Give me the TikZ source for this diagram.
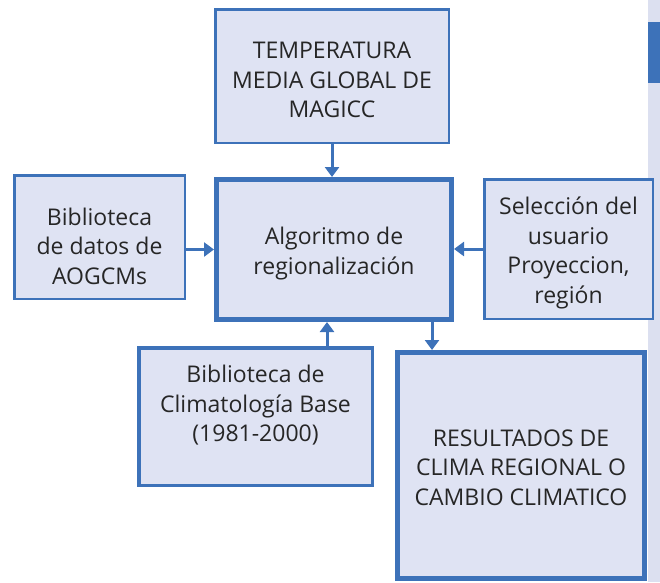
\documentclass[tikz,border=0pt]{standalone}
\usepackage{fontspec}
\setmainfont{Open Sans}
\usetikzlibrary{arrows.meta, calc}
\definecolor{boxblue}{HTML}{3D72B9}
\definecolor{boxfill}{HTML}{DFE3F3}
\definecolor{barfill}{HTML}{DCE0F0}
\tikzset{
  boxtext/.style={align=center, inner sep=0pt, font=\fontsize{23}{29.5}\selectfont, text=black!85},
  box/.style={boxtext, draw=boxblue, fill=boxfill, line width=2.5pt},
  heavybox/.style={box, line width=5pt},
  arr/.style={draw=boxblue, line width=3pt, -{Triangle[width=14pt,length=10pt]}},
}
\begin{document}
\begin{tikzpicture}[x=1pt, y=-1pt]
        \useasboundingbox (0,0) rectangle (660,582);
        % side bar
        \fill[barfill] (648,0) rectangle (660,582);
        \fill[boxblue] (648,22) rectangle (660,83);

        \node[box, minimum width=233.5pt, minimum height=133.5pt,
              label={[boxtext, name=temptxt, yshift=-4pt]center:{TEMPERATURA\\MEDIA GLOBAL DE\\MAGICC}}] (temp) at (332,76) {};
        \node[heavybox, minimum width=235pt, minimum height=140pt,
              label={[boxtext, name=algotxt, yshift=-4pt]center:{Algoritmo de\\regionalización}}] (algo) at (334,249.5) {};
        \node[box, minimum width=170.5pt, minimum height=123.5pt,
              label={[boxtext, name=datostxt, yshift=-9pt]center:{Biblioteca\\de datos de\\AOGCMs}}] (datos) at (99.5,237) {};
        \node[box, minimum width=168.5pt, minimum height=139.5pt,
              label={[boxtext, name=seltxt, yshift=-4pt]center:{Selección del\\usuario\\Proyeccion,\\región}}] (sel) at (568.5,249) {};
        \node[box, line width=3.5pt, minimum width=233.5pt, minimum height=137.5pt,
              label={[boxtext, name=climtxt, yshift=11pt]center:{Biblioteca de\\Climatología Base\\(1981-2000)}}] (clim) at (255.5,416.5) {};
        \node[heavybox, minimum width=247pt, minimum height=226pt,
              label={[boxtext, name=restxt, yshift=-2pt]center:{RESULTADOS DE\\CLIMA REGIONAL O\\CAMBIO CLIMATICO}}] (res) at (521,465.5) {};

        % connectors
        \draw[arr] (temp.south) -- (temp.south |- algo.north);
        \draw[arr] (datos.east |- algo.west) -- (algo.west);
        \draw[arr] (sel.west) -- (sel.west -| algo.east);
        \coordinate (climin) at ([xshift=-7pt]algo.south);
        \draw[arr] (climin |- clim.north) -- (climin);
        \coordinate (algoout) at ([xshift=98pt]algo.south);
        \draw[arr] (algoout) -- (algoout |- res.north);
    \end{tikzpicture}
\end{document}
